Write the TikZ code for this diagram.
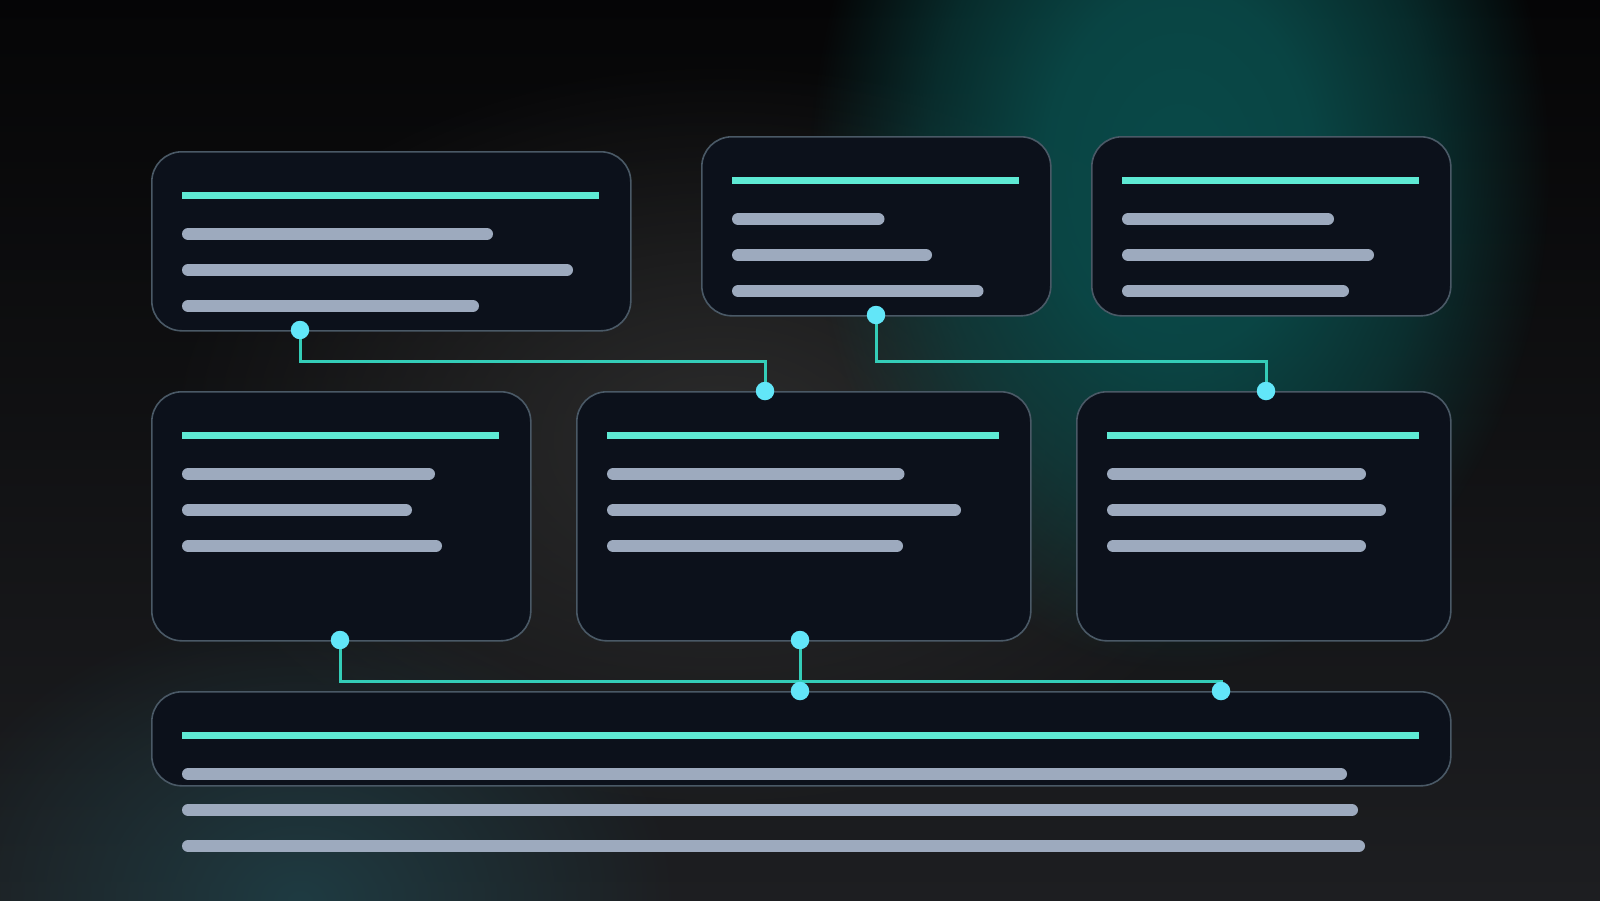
\documentclass[tikz,border=0pt]{standalone}
\usetikzlibrary{fadings}
\definecolor{bgtop}{HTML}{050506}
\definecolor{bgbot}{HTML}{1D1E21}
\definecolor{boxfill}{HTML}{0C111B}
\definecolor{boxline}{HTML}{4A5966}
\definecolor{headbar}{HTML}{5EEAD4}
\definecolor{textbar}{HTML}{9DAABE}
\definecolor{wire}{HTML}{34CDB8}
\definecolor{pin}{HTML}{62E6F8}
\definecolor{glowteal}{HTML}{0A4A49}
\definecolor{glowgray}{HTML}{2C2C2C}
\definecolor{glowlow}{HTML}{1F3B42}
\tikzfading[name=softglow, inner color=transparent!0, outer color=transparent!100]
\pgfdeclareradialshading{flatglowshade}{\pgfpointorigin}{color(0bp)=(pgftransparent!0); color(9bp)=(pgftransparent!8); color(17bp)=(pgftransparent!45); color(25bp)=(pgftransparent!100); color(50bp)=(pgftransparent!100)}
\pgfdeclarefading{flatglow}{\pgfuseshading{flatglowshade}}
\newcommand\mytextbar[3]{\draw[txt] (#1+6.25,#3) -- (#2-6.25,#3);}
\newcommand\myheadbar[3]{\draw[head] (#1,#3) -- (#2,#3);}
\begin{document}
\begin{tikzpicture}[x=1pt,y=-1pt,
  card/.style={draw=boxline, line width=1.6pt, fill=boxfill, rounded corners=30pt, inner sep=0pt, anchor=north west},
  head/.style={headbar, line width=7pt},
  txt/.style={textbar, line width=12.5pt, line cap=round},
  wirestyle/.style={wire, line width=3pt},
  pinstyle/.style={circle, fill=pin, inner sep=0pt, minimum size=18.5pt}]
\useasboundingbox (0,0) rectangle (1600,900);
% background
\shade[top color=bgtop, bottom color=bgbot] (0,0) rectangle (1600,900);
\fill[glowgray, path fading=softglow] (720,440) ellipse [x radius=560, y radius=380];
\fill[glowlow, path fading=softglow] (300,900) ellipse [x radius=380, y radius=290];
\fill[glowteal, path fading=flatglow] (1180,170) ellipse [x radius=370, y radius=500];

% cards
\node[card, minimum width=479pt, minimum height=179pt] (c1) at (151,151) {};
\node[card, minimum width=349pt, minimum height=179pt] (c2) at (701,136) {};
\node[card, minimum width=359pt, minimum height=179pt] (c3) at (1091,136) {};
\node[card, minimum width=379pt, minimum height=249pt] (c4) at (151,391) {};
\node[card, minimum width=454pt, minimum height=249pt] (c5) at (576,391) {};
\node[card, minimum width=374pt, minimum height=249pt] (c6) at (1076,391) {};
\node[card, minimum width=1299pt, minimum height=94pt] (c7) at (151,691) {};

% bars
\myheadbar{182}{599}{195} \mytextbar{182}{493}{234} \mytextbar{182}{573}{270} \mytextbar{182}{479}{306}
\myheadbar{732}{1019}{180} \mytextbar{732}{884.5}{219} \mytextbar{732}{932}{255} \mytextbar{732}{983.5}{291}
\myheadbar{1122}{1419}{180} \mytextbar{1122}{1334}{219} \mytextbar{1122}{1374}{255} \mytextbar{1122}{1349}{291}
\myheadbar{182}{499}{435} \mytextbar{182}{435}{474} \mytextbar{182}{412}{510} \mytextbar{182}{442}{546}
\myheadbar{607}{999}{435} \mytextbar{607}{904.5}{474} \mytextbar{607}{961}{510} \mytextbar{607}{903}{546}
\myheadbar{1107}{1419}{435} \mytextbar{1107}{1366}{474} \mytextbar{1107}{1386}{510} \mytextbar{1107}{1366}{546}
\myheadbar{182}{1419}{735} \mytextbar{182}{1347}{774} \mytextbar{182}{1358}{810} \mytextbar{182}{1365}{846}

% pin positions
\coordinate (p1) at (300,330);
\coordinate (p2) at (765,391);
\coordinate (p3) at (876,315);
\coordinate (p4) at (1266,391);
\coordinate (p5) at (340,640);
\coordinate (p6) at (1221,691);
\coordinate (p7) at (800,640);
\coordinate (p8) at (800,691);

% wires
\draw[wirestyle] (p1) -- ++(0,31) -| (p2);
\draw[wirestyle] (p3) -- ++(0,46) -| (p4);
\draw[wirestyle] (p5) -- ++(0,41) -| (p6);
\draw[wirestyle] (p7) -- (p8);

% pins
\foreach \p in {p1,p2,p3,p4,p5,p6,p7,p8} \node[pinstyle] (n\p) at (\p) {};
\end{tikzpicture}
\end{document}
